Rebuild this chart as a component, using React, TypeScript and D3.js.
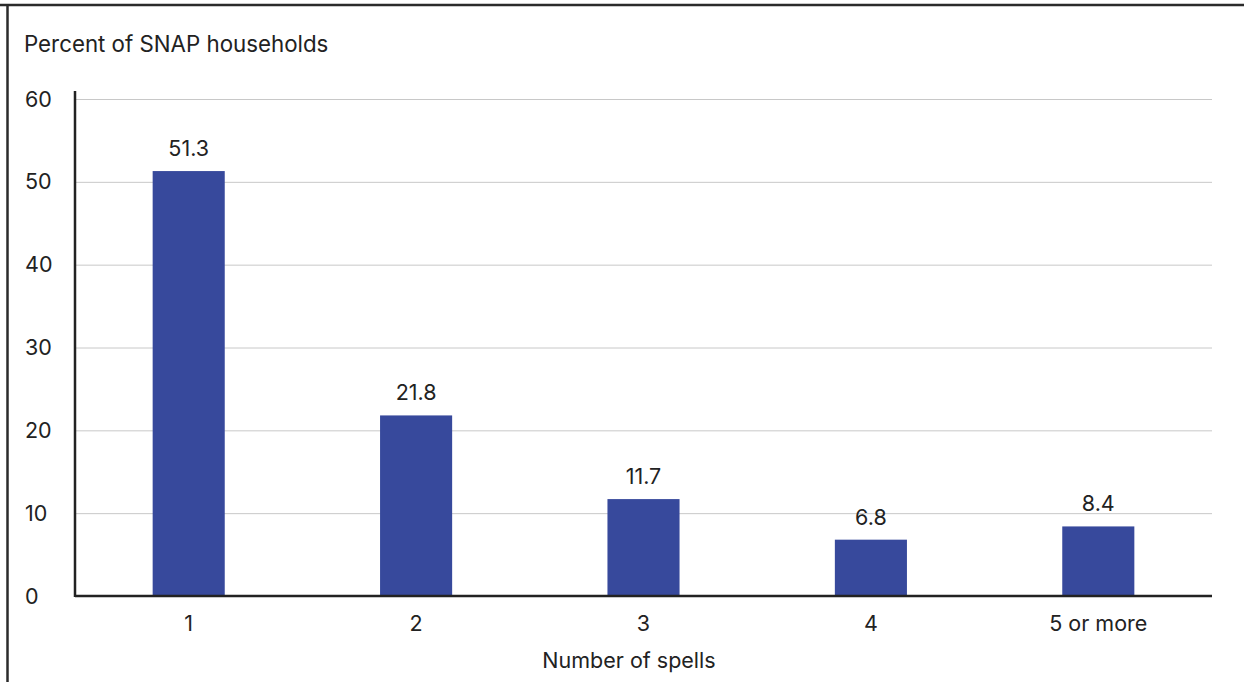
import React, { useEffect, useRef } from "react";
import * as d3 from "d3";

const categories = ["1", "2", "3", "4", "5 or more"];
const values = [51.3, 21.8, 11.7, 6.8, 8.4];
const yTicks = [0, 10, 20, 30, 40, 50, 60];
const yTitle = "Percent of SNAP households";
const xTitle = "Number of spells";

const W = 1244;
const H = 682;
const FONT = "Inter, 'Noto Sans', sans-serif";
const FS = 21.5;
const TEXT = "#222";
const BAR = "#37499c";

export default function App() {
  const ref = useRef<SVGSVGElement>(null);

  useEffect(() => {
    const svg = d3.select(ref.current);
    svg.selectAll("*").remove();

    const left = 75;
    const right = 1212;
    const top = 99;
    const bottom = 596;

    const x = d3
      .scaleBand<string>()
      .domain(categories)
      .range([left, right])
      .paddingInner(0.683)
      .paddingOuter(0.3415)
      .align(0.5);
    const y = d3.scaleLinear().domain([0, 60]).range([bottom, top]);

    // outer frame: top rule and left rule
    svg
      .append("line")
      .attr("x1", 0)
      .attr("x2", W)
      .attr("y1", 5)
      .attr("y2", 5)
      .attr("stroke", "#2b2b2b")
      .attr("stroke-width", 2.5);
    svg
      .append("line")
      .attr("x1", 7.5)
      .attr("x2", 7.5)
      .attr("y1", 4)
      .attr("y2", H)
      .attr("stroke", "#2b2b2b")
      .attr("stroke-width", 2.5);

    // y title
    svg
      .append("text")
      .attr("x", 24)
      .attr("y", 52)
      .attr("font-family", FONT)
      .attr("font-size", 22.3)
      .attr("fill", TEXT)
      .text(yTitle);

    // gridlines
    svg
      .append("g")
      .selectAll("line")
      .data(yTicks.filter((t) => t > 0))
      .join("line")
      .attr("x1", left)
      .attr("x2", right)
      .attr("y1", (d) => y(d) + 0.5)
      .attr("y2", (d) => y(d) + 0.5)
      .attr("stroke", "#c8c8c8")
      .attr("stroke-width", 1);

    // y tick labels
    svg
      .append("g")
      .selectAll("text")
      .data(yTicks)
      .join("text")
      .attr("x", 25)
      .attr("y", (d) => y(d))
      .attr("dy", "0.35em")
      .attr("font-family", FONT)
      .attr("font-size", FS)
      .attr("fill", TEXT)
      .text((d) => String(d));

    // bars
    const bw = x.bandwidth();
    svg
      .append("g")
      .selectAll("rect")
      .data(values)
      .join("rect")
      .attr("x", (_, i) => x(categories[i])!)
      .attr("y", (d) => y(d))
      .attr("width", bw)
      .attr("height", (d) => bottom - y(d))
      .attr("fill", BAR);

    // value labels
    svg
      .append("g")
      .selectAll("text")
      .data(values)
      .join("text")
      .attr("x", (_, i) => x(categories[i])! + bw / 2)
      .attr("y", (d) => y(d) - 15)
      .attr("text-anchor", "middle")
      .attr("font-family", FONT)
      .attr("font-size", FS)
      .attr("fill", TEXT)
      .text((d) => d.toFixed(1));

    // y axis line and baseline
    svg
      .append("line")
      .attr("x1", left)
      .attr("x2", left)
      .attr("y1", 91)
      .attr("y2", bottom + 1)
      .attr("stroke", "#222")
      .attr("stroke-width", 2.5);
    svg
      .append("line")
      .attr("x1", left)
      .attr("x2", right)
      .attr("y1", bottom)
      .attr("y2", bottom)
      .attr("stroke", "#222")
      .attr("stroke-width", 2.5);

    // category labels
    svg
      .append("g")
      .selectAll("text")
      .data(categories)
      .join("text")
      .attr("x", (d) => x(d)! + bw / 2)
      .attr("y", 631)
      .attr("text-anchor", "middle")
      .attr("font-family", FONT)
      .attr("font-size", FS)
      .attr("fill", TEXT)
      .text((d) => d);

    // x title
    svg
      .append("text")
      .attr("x", 629)
      .attr("y", 668)
      .attr("text-anchor", "middle")
      .attr("font-family", FONT)
      .attr("font-size", FS)
      .attr("fill", TEXT)
      .text(xTitle);
  }, []);

  return (
    <svg
      ref={ref}
      width={W}
      height={H}
      style={{ position: "absolute", left: 0, top: 0, background: "#fff" }}
    />
  );
}
